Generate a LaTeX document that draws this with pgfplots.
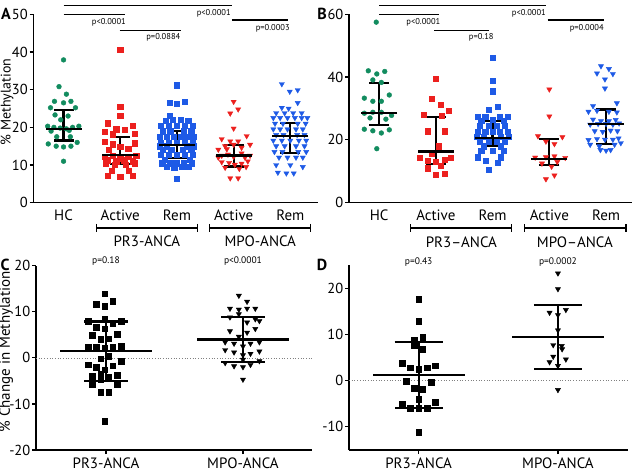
\documentclass[border=0pt]{standalone}
\usepackage{fontspec}
\setmainfont{PT Sans}
\usepackage{pgfplots}
\pgfplotsset{compat=1.18}
\definecolor{cg}{RGB}{18,140,95}
\definecolor{cr}{RGB}{236,32,30}
\definecolor{cb}{RGB}{30,90,230}
\tikzset{ann/.style={font=\fontsize{8.5}{8.5}\selectfont, inner sep=0pt}}
\pgfplotsset{
 panel/.style={scale only axis, axis x line*=bottom, axis y line*=left,
  axis line style={line width=1.3pt}, clip=false, tick align=outside,
  major tick length=4pt, tick style={line width=1.2pt,black},
  yticklabel style={font=\fontsize{14.5}{14.5}\selectfont, inner sep=1.5pt},
  xticklabel style={font=\fontsize{15}{15}\selectfont},
  /pgf/number format/assume math mode=true},
 grp/.style={only marks, mark=#1, draw=none},
 ebar/.style 2 args={only marks, mark=-, mark size=#1, mark options={line width=2.2pt, black},
  error bars/.cd, y dir=both, y explicit, error bar style={line width=2.2pt, black},
  error mark options={rotate=90, line width=2.2pt, black, mark size=#2}},
}
\begin{document}
\begin{tikzpicture}
\useasboundingbox (0,0) rectangle (636pt,474pt);
% ---------------- Panel A
\begin{axis}[panel, at={(33.5pt,271.3pt)}, anchor=south west, width=284.5pt, height=188.4pt,
 xmin=-0.53, xmax=4.488, ymin=0, ymax=50, ytick={0,10,20,30,40,50},
 xtick={0,1,2,3,4}, xticklabels={HC,Active,Rem,Active,Rem}, xtick style={draw=none}]
\addplot[grp=*, mark size=2.4pt, mark options={fill=cg, draw=cg}] table[row sep=\\]{x y\\
0.00 37.9\\ -0.08 30.8\\ 0.05 28.8\\ -0.16 26.9\\ 0.00 26.5\\ 0.13 26.9\\ -0.23 25.2\\ 0.21 25.2\\
-0.15 23.3\\ 0.08 23.0\\ -0.05 22.0\\ -0.28 20.3\\ -0.17 20.0\\ -0.06 19.8\\ 0.05 19.6\\ 0.16 20.0\\
0.27 20.3\\ -0.22 19.0\\ 0.10 19.2\\ -0.12 17.5\\ 0.12 17.5\\ -0.27 15.6\\ -0.13 15.0\\ 0.00 14.8\\
0.13 15.0\\ 0.24 16.0\\ 0.00 11.0\\};
\addplot[grp=square*, mark size=2.6pt, mark options={fill=cr, draw=cr}] table[row sep=\\]{x y\\
1.00 40.5\\ 1.00 25.5\\ 1.00 23.0\\ 0.78 21.1\\ 1.22 20.5\\ 0.93 19.5\\ 1.08 19.3\\ 0.72 18.8\\
0.86 18.2\\ 1.26 18.4\\ 0.72 16.2\\ 0.86 15.5\\ 1.00 14.9\\ 1.14 14.3\\ 1.26 15.8\\ 0.80 14.0\\
0.72 12.2\\ 0.86 12.5\\ 1.00 11.8\\ 1.14 12.2\\ 1.28 12.5\\ 0.78 11.3\\ 0.93 11.0\\ 1.07 11.3\\
1.22 11.0\\ 0.74 10.5\\ 0.90 10.0\\ 1.10 10.0\\ 1.26 10.5\\ 0.85 8.5\\ 1.15 8.5\\ 0.78 7.1\\
1.00 6.8\\ 1.22 7.1\\};
\addplot[grp=square*, mark size=2.6pt, mark options={fill=cb, draw=cb}] table[row sep=\\]{x y\\
2.00 31.2\\ 1.87 26.5\\ 2.00 26.2\\ 2.14 26.8\\ 1.87 23.0\\ 1.80 21.7\\ 1.93 22.0\\ 2.07 22.0\\
2.20 21.7\\ 1.72 20.5\\ 1.86 20.5\\ 2.00 20.5\\ 2.14 20.5\\ 2.28 20.5\\ 1.75 19.0\\ 1.88 19.0\\
2.12 19.0\\ 2.25 19.0\\ 1.70 17.5\\ 1.82 17.5\\ 1.94 17.5\\ 2.06 17.5\\ 2.18 17.5\\ 2.30 17.5\\
1.72 16.0\\ 1.86 16.0\\ 2.00 16.0\\ 2.14 16.0\\ 2.28 16.0\\ 1.70 15.0\\ 1.82 15.0\\ 2.18 15.0\\
2.30 15.0\\ 1.75 14.0\\ 1.90 14.0\\ 2.10 14.0\\ 2.25 14.0\\ 1.72 12.7\\ 1.86 12.7\\ 2.00 12.7\\
2.14 12.7\\ 2.28 12.7\\ 1.78 11.5\\ 2.22 11.5\\ 1.74 10.5\\ 1.88 10.5\\ 2.00 10.5\\ 2.12 10.5\\
2.26 10.5\\ 1.82 9.5\\ 1.95 9.3\\ 2.08 9.5\\ 2.20 9.5\\ 2.00 6.3\\};
\addplot[grp=triangle*, mark size=3pt, mark options={fill=cr, draw=cr, rotate=180}] table[row sep=\\]{x y\\
3.00 26.8\\ 3.08 24.8\\ 2.94 23.7\\ 3.00 19.7\\ 2.79 16.9\\ 2.94 16.3\\ 3.08 16.3\\ 3.23 17.7\\
2.85 15.0\\ 3.00 15.4\\ 3.14 14.6\\ 3.29 15.4\\ 2.73 14.1\\ 2.88 14.2\\ 2.79 12.5\\ 2.90 12.8\\
3.00 12.2\\ 3.14 13.1\\ 3.29 12.5\\ 2.73 12.0\\ 3.20 12.0\\ 2.79 10.8\\ 2.92 10.6\\ 3.02 10.1\\
3.14 10.4\\ 3.25 11.0\\ 2.85 9.3\\ 3.10 9.0\\ 3.22 9.5\\ 2.94 6.5\\ 3.08 6.5\\};
\addplot[grp=triangle*, mark size=3pt, mark options={fill=cb, draw=cb, rotate=180}] table[row sep=\\]{x y\\
3.85 31.5\\ 4.13 29.9\\ 3.99 29.5\\ 4.13 26.5\\ 3.85 25.2\\ 3.97 25.0\\ 3.75 23.8\\ 3.90 23.8\\
4.05 23.8\\ 4.20 23.8\\ 3.70 22.5\\ 3.82 22.5\\ 3.95 22.5\\ 4.08 22.5\\ 4.20 22.5\\ 4.30 22.5\\
3.73 21.0\\ 3.87 21.0\\ 4.13 21.0\\ 4.27 21.0\\ 3.70 19.5\\ 3.82 19.5\\ 3.95 19.5\\ 4.10 19.5\\
4.22 19.5\\ 3.75 18.0\\ 3.88 18.0\\ 4.12 18.0\\ 4.25 18.0\\ 3.70 16.5\\ 3.85 16.5\\ 4.00 16.5\\
4.15 16.5\\ 4.28 16.5\\ 3.75 15.0\\ 3.90 15.0\\ 4.10 15.0\\ 4.25 15.0\\ 3.72 13.5\\ 3.86 13.5\\
4.14 13.5\\ 4.28 13.5\\ 3.80 12.0\\ 3.95 12.0\\ 4.10 12.0\\ 4.22 12.0\\ 3.75 10.0\\ 4.00 10.0\\
4.22 9.5\\ 3.78 8.0\\ 3.93 7.8\\ 4.06 7.8\\};
\addplot[ebar={18pt}{10pt}] table[row sep=\\, x=x, y=y, y error plus=ep, y error minus=em]{x y ep em\\
0 19.6 5.0 3.1\\ 1 12.66 4.84 2.46\\ 2 15.3 3.7 3.4\\ 3 12.5 2.8 2.9\\ 4 17.8 3.3 4.7\\};
% annotations
\draw[line width=1.2pt] (axis cs:0,52.3) -- (axis cs:2.97,52.3);
\draw[line width=1.2pt] (axis cs:0,49.9) -- (axis cs:1.09,49.9);
\node[ann] at (axis cs:0.8,48.0) {p<0.0001};
\draw[line width=1.2pt] (axis cs:0.99,45.75) -- (axis cs:2.07,45.75);
\node[ann] at (axis cs:1.76,44.0) {p=0.0884};
\node[ann] at (axis cs:2.65,50.2) {p<0.0001};
\draw[line width=1.2pt] (axis cs:2.97,48.5) -- (axis cs:3.96,48.5);
\node[ann] at (axis cs:3.69,46.4) {p=0.0003};
\draw[line width=1.2pt] (axis cs:0.58,-6.7) -- (axis cs:2.36,-6.7);
\draw[line width=1.2pt] (axis cs:0.58,-5.6) -- (axis cs:0.58,-7.8);
\draw[line width=1.2pt] (axis cs:2.36,-5.6) -- (axis cs:2.36,-7.8);
\draw[line width=1.2pt] (axis cs:2.57,-6.7) -- (axis cs:4.36,-6.7);
\draw[line width=1.2pt] (axis cs:2.57,-5.6) -- (axis cs:2.57,-7.8);
\draw[line width=1.2pt] (axis cs:4.36,-5.6) -- (axis cs:4.36,-7.8);
\node[font=\fontsize{15}{15}\selectfont] at (axis cs:1.47,-10.2) {PR3-ANCA};
\node[font=\fontsize{15}{15}\selectfont] at (axis cs:3.47,-10.2) {MPO-ANCA};
\end{axis}
% ---------------- Panel B
\begin{axis}[panel, at={(349pt,271.3pt)}, anchor=south west, width=283pt, height=188.4pt,
 xmin=-0.53, xmax=4.457, ymin=0, ymax=60, ytick={0,20,40,60},
 xtick={0,1,2,3,4}, xticklabels={HC,Active,Rem,Active,Rem}, xtick style={draw=none}]
\addplot[grp=*, mark size=2.4pt, mark options={fill=cg, draw=cg}] table[row sep=\\]{x y\\
-0.05 57.5\\ -0.19 42.0\\ -0.04 41.0\\ 0.10 41.8\\ -0.11 39.1\\ 0.04 38.3\\ 0.18 34.3\\ -0.26 33.3\\
-0.11 32.3\\ 0.04 32.3\\ -0.26 28.5\\ -0.11 28.8\\ 0.04 28.8\\ 0.22 27.8\\ -0.16 27.0\\ 0.12 26.6\\
-0.26 23.4\\ -0.11 22.9\\ 0.04 22.2\\ 0.18 23.2\\ -0.04 17.2\\};
\addplot[grp=square*, mark size=2.6pt, mark options={fill=cr, draw=cr}] table[row sep=\\]{x y\\
1.00 39.5\\ 0.93 33.0\\ 1.08 31.3\\ 1.22 29.3\\ 0.78 27.9\\ 1.10 27.6\\ 0.86 22.8\\ 1.15 22.8\\
1.05 18.0\\ 0.93 15.5\\ 0.72 14.3\\ 0.86 13.5\\ 1.00 13.0\\ 1.15 13.6\\ 1.26 14.3\\ 0.86 11.0\\
1.08 11.8\\ 1.00 9.0\\ 1.15 9.3\\};
\addplot[grp=square*, mark size=2.6pt, mark options={fill=cb, draw=cb}] table[row sep=\\]{x y\\
2.00 46.3\\ 2.00 38.9\\ 2.00 35.5\\ 2.09 30.5\\ 1.93 29.7\\ 1.74 27.5\\ 1.87 27.5\\ 2.13 27.5\\
2.26 27.5\\ 1.80 26.2\\ 2.00 26.5\\ 2.20 26.2\\ 1.78 24.5\\ 1.93 24.5\\ 2.07 24.5\\ 2.22 24.5\\
1.74 22.5\\ 1.87 22.5\\ 2.00 22.5\\ 2.13 22.5\\ 2.26 22.5\\ 1.72 21.0\\ 1.85 21.0\\ 2.15 21.0\\
2.28 21.0\\ 1.78 19.5\\ 1.93 19.5\\ 2.07 19.5\\ 2.22 19.5\\ 1.85 18.0\\ 2.15 18.0\\ 1.80 16.5\\
2.00 16.5\\ 2.20 16.5\\ 1.74 14.5\\ 2.15 14.5\\ 1.88 13.5\\ 2.09 12.8\\ 1.93 10.5\\};
\addplot[grp=triangle*, mark size=3pt, mark options={fill=cr, draw=cr, rotate=180}] table[row sep=\\]{x y\\
3.00 36.1\\ 3.00 27.5\\ 2.80 21.2\\ 3.23 20.9\\ 2.94 19.5\\ 3.09 18.7\\ 2.75 14.4\\ 2.94 14.5\\
3.09 14.8\\ 3.28 14.3\\ 2.87 12.5\\ 3.04 11.5\\ 3.14 13.0\\ 2.94 7.5\\ 3.09 8.7\\};
\addplot[grp=triangle*, mark size=3pt, mark options={fill=cb, draw=cb, rotate=180}] table[row sep=\\]{x y\\
3.91 43.5\\ 4.05 42.6\\ 3.84 41.2\\ 4.12 41.0\\ 3.98 39.3\\ 3.98 36.4\\ 3.77 30.8\\ 4.19 31.7\\
3.69 29.0\\ 3.84 29.3\\ 4.05 29.0\\ 4.19 28.8\\ 3.77 26.5\\ 3.91 26.0\\ 4.05 26.0\\ 4.17 26.4\\
3.72 24.9\\ 3.86 25.1\\ 4.00 25.1\\ 4.12 24.9\\ 4.23 25.3\\ 3.80 22.8\\ 3.94 22.6\\ 4.08 23.0\\
4.20 22.8\\ 3.69 20.0\\ 3.84 20.3\\ 3.98 20.1\\ 4.12 20.1\\ 4.22 20.5\\ 3.72 18.5\\ 3.88 18.0\\
4.15 18.5\\ 4.26 19.0\\ 3.90 16.8\\ 4.00 16.6\\ 4.08 16.8\\};
\addplot[ebar={18pt}{10pt}] table[row sep=\\, x=x, y=y, y error plus=ep, y error minus=em]{x y ep em\\
0 28.5 9.7 3.8\\ 1 16.3 10.9 4.0\\ 2 20.5 5.6 2.4\\ 3 13.8 6.5 1.8\\ 4 25.0 4.7 6.4\\};
\draw[line width=1.2pt] (axis cs:0,62.7) -- (axis cs:2.94,62.7);
\draw[line width=1.2pt] (axis cs:0,59.9) -- (axis cs:1.06,59.9);
\node[ann] at (axis cs:0.78,57.5) {p<0.0001};
\draw[line width=1.2pt] (axis cs:0.975,54.9) -- (axis cs:1.94,54.9);
\node[ann] at (axis cs:1.8,52.8) {p=0.18};
\node[ann] at (axis cs:2.64,60.2) {p<0.0001};
\draw[line width=1.2pt] (axis cs:2.97,58.2) -- (axis cs:3.97,58.2);
\node[ann] at (axis cs:3.66,55.6) {p=0.0004};
\draw[line width=1.2pt] (axis cs:0.56,-8.06) -- (axis cs:2.34,-8.06);
\draw[line width=1.2pt] (axis cs:0.56,-6.8) -- (axis cs:0.56,-9.3);
\draw[line width=1.2pt] (axis cs:2.34,-6.8) -- (axis cs:2.34,-9.3);
\draw[line width=1.2pt] (axis cs:2.56,-8.06) -- (axis cs:4.35,-8.06);
\draw[line width=1.2pt] (axis cs:2.56,-6.8) -- (axis cs:2.56,-9.3);
\draw[line width=1.2pt] (axis cs:4.35,-6.8) -- (axis cs:4.35,-9.3);
\node[font=\fontsize{15}{15}\selectfont] at (axis cs:1.45,-12.5) {PR3–ANCA};
\node[font=\fontsize{15}{15}\selectfont] at (axis cs:3.45,-12.5) {MPO–ANCA};
\end{axis}
% ---------------- Panel C
\begin{axis}[panel, at={(36pt,24pt)}, anchor=south west, width=276pt, height=184.3pt,
 xmin=-0.511, xmax=1.504, ymin=-20, ymax=20, ytick={-20,-10,0,10,20},
 xtick={0,1}, xticklabels={PR3-ANCA,MPO-ANCA}]
\addplot[gray, dotted, line width=0.7pt] coordinates {(-0.511,0) (1.504,0)};
\addplot[grp=square*, mark size=2.8pt, mark options={fill=black, draw=black}] table[row sep=\\]{x y\\
-0.01 13.9\\ -0.07 11.7\\ 0.05 12.3\\ -0.01 11.2\\ -0.13 7.9\\ -0.01 8.4\\ 0.05 7.4\\ 0.11 8.0\\
-0.07 6.7\\ -0.01 6.3\\ -0.10 4.9\\ 0.08 5.1\\ -0.04 4.0\\ 0.02 4.2\\ -0.13 2.3\\ -0.07 2.3\\
-0.01 2.2\\ 0.05 2.3\\ 0.11 2.5\\ -0.04 -0.2\\ 0.02 0.35\\ -0.13 -1.5\\ -0.07 -2.0\\ -0.01 -2.6\\
0.05 -1.7\\ 0.11 -0.7\\ -0.10 -4.0\\ -0.04 -3.5\\ 0.02 -4.2\\ 0.08 -3.7\\ -0.10 -5.8\\ 0.08 -5.8\\
-0.04 -4.7\\ -0.04 -7.5\\ 0.02 -7.5\\ -0.01 -13.7\\};
\addplot[grp=triangle*, mark size=3pt, mark options={fill=black, draw=black, rotate=180}] table[row sep=\\]{x y\\
0.97 13.5\\ 1.03 12.2\\ 0.905 10.7\\ 0.97 10.5\\ 1.03 10.7\\ 1.09 10.7\\ 0.905 8.8\\ 0.97 9.5\\
1.09 8.4\\ 1.03 7.7\\ 1.12 8.0\\ 0.905 5.8\\ 1.03 5.5\\ 1.09 6.3\\ 0.97 4.6\\ 0.87 3.4\\
0.935 3.1\\ 1.055 3.1\\ 1.12 3.4\\ 1.00 2.5\\ 0.87 1.7\\ 0.935 1.2\\ 1.055 0.9\\ 1.12 1.4\\
1.00 0.6\\ 1.00 -0.4\\ 0.87 -1.1\\ 0.935 -1.8\\ 1.00 -2.0\\ 1.055 -1.5\\ 1.12 -0.7\\ 1.00 -4.7\\};
\addplot[ebar={46pt}{21.7pt}] table[row sep=\\, x=x, y=y, y error plus=ep, y error minus=em]{x y ep em\\
0 1.45 6.45 6.45\\ 1 4.0 4.9 4.96\\};
\node[font=\fontsize{9.5}{9.5}\selectfont] at (axis cs:0,20.9) {p=0.18};
\node[font=\fontsize{9.5}{9.5}\selectfont] at (axis cs:1,20.9) {p<0.0001};
\end{axis}
% ---------------- Panel D
\begin{axis}[panel, at={(349pt,24pt)}, anchor=south west, width=279pt, height=185pt,
 xmin=-0.5, xmax=1.503, ymin=-15, ymax=25, ytick={-10,0,10,20},
 xtick={0,1}, xticklabels={PR3-ANCA,MPO-ANCA}]
\addplot[gray, dotted, line width=0.7pt] coordinates {(-0.5,0) (1.503,0)};
\addplot[grp=square*, mark size=2.8pt, mark options={fill=black, draw=black}] table[row sep=\\]{x y\\
0.00 17.6\\ 0.00 12.9\\ -0.03 8.7\\ -0.03 7.7\\ 0.03 9.4\\ 0.03 6.8\\ -0.12 3.8\\ -0.06 2.8\\
0.00 2.5\\ 0.06 2.8\\ 0.12 3.2\\ -0.09 -0.1\\ 0.09 -0.4\\ -0.03 -1.6\\ 0.03 -1.8\\ 0.00 -4.0\\
-0.12 -5.0\\ 0.12 -4.7\\ -0.06 -6.0\\ 0.00 -6.0\\ 0.06 -6.0\\ 0.00 -11.1\\};
\addplot[grp=triangle*, mark size=3pt, mark options={fill=black, draw=black, rotate=180}] table[row sep=\\]{x y\\
1.00 23.2\\ 1.00 19.8\\ 0.94 14.7\\ 1.057 15.3\\ 1.00 14.2\\ 1.00 10.9\\ 0.966 7.7\\ 1.027 7.5\\
1.03 6.8\\ 0.966 5.2\\ 1.057 4.6\\ 0.94 4.0\\ 1.00 3.2\\ 1.00 -2.0\\};
\addplot[ebar={46pt}{24pt}] table[row sep=\\, x=x, y=y, y error plus=ep, y error minus=em]{x y ep em\\
0 1.2 7.1 7.1\\ 1 9.4 6.95 6.95\\};
\node[font=\fontsize{9.5}{9.5}\selectfont] at (axis cs:0,25.7) {p=0.43};
\node[font=\fontsize{9.5}{9.5}\selectfont] at (axis cs:1,25.7) {p=0.0002};
\end{axis}
% ---------------- labels
\node[font=\bfseries\fontsize{16}{16}\selectfont] at (6pt,460pt) {A};
\node[font=\bfseries\fontsize{16}{16}\selectfont] at (322pt,460pt) {B};
\node[font=\bfseries\fontsize{16}{16}\selectfont] at (5pt,209pt) {C};
\node[font=\bfseries\fontsize{16}{16}\selectfont] at (322pt,209pt) {D};
\node[rotate=90, font=\fontsize{14}{14}\selectfont] at (7pt,372pt) {\% Methylation};
\node[rotate=90, font=\fontsize{15}{15}\selectfont] at (6pt,122pt) {\% Change in Methylation};
\end{tikzpicture}
\end{document}
